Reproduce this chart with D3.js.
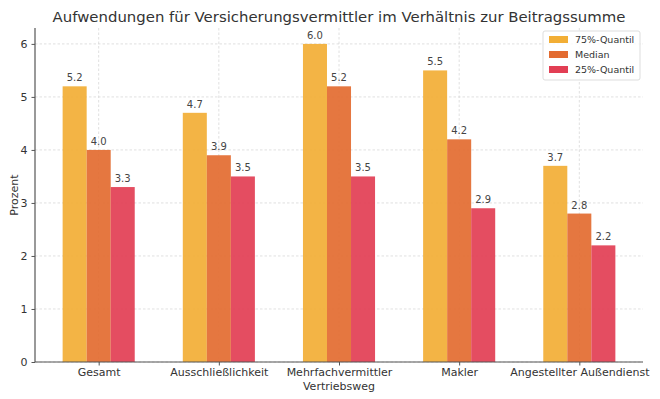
<!DOCTYPE html>
<html>
<head>
<meta charset="utf-8">
<script src="https://cdn.jsdelivr.net/npm/d3@7"></script>
<style>
  body { margin: 0; background: #fff; }
  text { font-family: "DejaVu Sans", sans-serif; }
</style>
</head>
<body>
<div id="chart"><svg></svg></div>
<script>
var categories = ["Gesamt", "Ausschließlichkeit", "Mehrfachvermittler", "Makler", "Angestellter Außendienst"];
var seriesNames = ["75%-Quantil", "Median", "25%-Quantil"];
var q75 = [5.2, 4.7, 6.0, 5.5, 3.7];
var median = [4.0, 3.9, 5.2, 4.2, 2.8];
var q25 = [3.3, 3.5, 3.5, 2.9, 2.2];
var yTicks = [0, 1, 2, 3, 4, 5, 6];

var colors = ["#f2ae35", "#e36b30", "#e23e54"];
var series = [q75, median, q25];

var width = 660,
    height = 399,
    margin = {top: 28, right: 17, bottom: 37, left: 35};

var svg = d3.select("#chart svg")
    .attr("width", width)
    .attr("height", height);

var plotW = width - margin.left - margin.right,
    plotH = height - margin.top - margin.bottom;

var g = svg.append("g")
    .attr("transform", "translate(" + margin.left + "," + margin.top + ")");

// index scale, matplotlib-style padding around the bars
var x = d3.scaleLinear()
    .domain([-0.53, categories.length - 1 + 0.53])
    .range([0, plotW]);

var y = d3.scaleLinear()
    .domain([0, 6.3])
    .range([plotH, 0]);

var barW = x(0.2) - x(0);

// grid
g.append("g").selectAll("line")
    .data(yTicks)
    .enter().append("line")
        .attr("x1", 0).attr("x2", plotW)
        .attr("y1", d => y(d)).attr("y2", d => y(d))
        .style("stroke", "#d8d8d8")
        .style("stroke-width", 0.8)
        .style("stroke-dasharray", "2.5,2");

g.append("g").selectAll("line")
    .data(categories)
    .enter().append("line")
        .attr("x1", (d, i) => x(i)).attr("x2", (d, i) => x(i))
        .attr("y1", 0).attr("y2", plotH)
        .style("stroke", "#d8d8d8")
        .style("stroke-width", 0.8)
        .style("stroke-dasharray", "2.5,2");

// bars
series.forEach(function(vals, s) {
    var offset = (s - 1) * 0.2;
    var grp = g.append("g");
    grp.selectAll("rect")
        .data(vals)
        .enter().append("rect")
            .attr("x", (d, i) => x(i + offset) - barW / 2)
            .attr("width", barW)
            .attr("y", d => y(d))
            .attr("height", d => plotH - y(d))
            .style("fill", colors[s])
            .style("opacity", 0.92);

    grp.selectAll("text")
        .data(vals)
        .enter().append("text")
            .attr("x", (d, i) => x(i + offset))
            .attr("y", d => y(d) - 5)
            .attr("text-anchor", "middle")
            .style("font-size", "10px")
            .style("fill", "#444")
            .text(d => d.toFixed(1));
});

// axes
var yAxis = g.append("g")
    .call(d3.axisLeft(y).tickValues(yTicks).tickSize(3.5).tickPadding(4).tickFormat(d3.format("d")));
var xAxis = g.append("g")
    .attr("transform", "translate(0," + plotH + ")")
    .call(d3.axisBottom(x).tickValues(d3.range(categories.length)).tickSize(3.5).tickPadding(3)
        .tickFormat(i => categories[i]));

[yAxis, xAxis].forEach(function(a) {
    a.select(".domain").style("stroke", "#555").style("stroke-width", 1.2)
        .attr("d", a === yAxis ? "M0," + plotH + "V0" : "M0,0H" + plotW);
    a.selectAll(".tick line").style("stroke", "#555");
    a.selectAll(".tick text").style("font-size", "11px").style("fill", "#333")
        .style("font-family", "DejaVu Sans, sans-serif");
});

// labels
svg.append("text")
    .attr("x", 339).attr("y", 22)
    .attr("text-anchor", "middle")
    .style("font-size", "14.9px")
    .style("fill", "#333")
    .text("Aufwendungen für Versicherungsvermittler im Verhältnis zur Beitragssumme");

svg.append("text")
    .attr("x", margin.left + x(2)).attr("y", 390)
    .attr("text-anchor", "middle")
    .style("font-size", "11px")
    .style("fill", "#333")
    .text("Vertriebsweg");

svg.append("text")
    .attr("transform", "translate(18," + (margin.top + plotH / 2) + ") rotate(-90)")
    .attr("text-anchor", "middle")
    .style("font-size", "11px")
    .style("fill", "#333")
    .text("Prozent");

// legend
var legend = svg.append("g").attr("transform", "translate(543,31)");
legend.append("rect")
    .attr("width", 97).attr("height", 49)
    .attr("rx", 2)
    .style("fill", "#fff")
    .style("fill-opacity", 0.85)
    .style("stroke", "#ddd");

seriesNames.forEach(function(name, s) {
    legend.append("rect")
        .attr("x", 6).attr("y", 5 + s * 15)
        .attr("width", 19).attr("height", 7)
        .style("fill", colors[s]);
    legend.append("text")
        .attr("x", 32).attr("y", 12 + s * 15)
        .style("font-size", "9.5px")
        .style("fill", "#333")
        .text(name);
});
</script>
</body>
</html>
